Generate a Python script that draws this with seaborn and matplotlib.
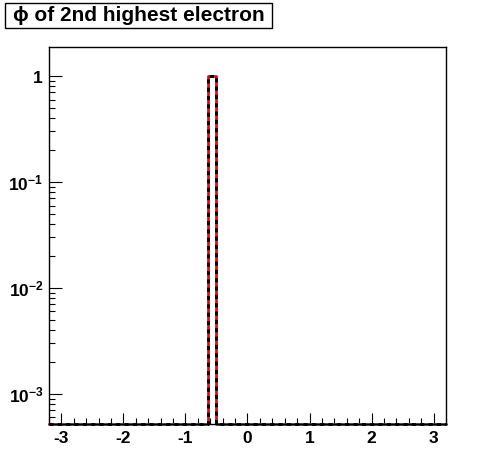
import numpy as np
import pandas as pd
import matplotlib
matplotlib.use("Agg")
import matplotlib.pyplot as plt
import seaborn as sns

# histogram of phi, 50 bins over [-3.2, 3.2]
x_min, x_max, n_bins = -3.2, 3.2, 50
counts = [0, 0, 0, 0, 0, 0, 0, 0, 0, 0,
          0, 0, 0, 0, 0, 0, 0, 0, 0, 0,
          1, 0, 0, 0, 0, 0, 0, 0, 0, 0,
          0, 0, 0, 0, 0, 0, 0, 0, 0, 0,
          0, 0, 0, 0, 0, 0, 0, 0, 0, 0]
x_ticks = [-3, -2, -1, 0, 1, 2, 3]
y_ticks = [1e-3, 1e-2, 1e-1, 1]
y_labels = ["$10^{-3}$", "$10^{-2}$", "$10^{-1}$", "$1$"]
title = "\u03d5 of 2nd highest electron"

sns.set_style("ticks")
plt.rcParams["font.family"] = ["Liberation Sans", "DejaVu Sans"]
plt.rcParams["font.weight"] = "bold"
plt.rcParams["text.color"] = "black"
plt.rcParams["mathtext.fontset"] = "custom"
plt.rcParams["mathtext.rm"] = "Liberation Sans:bold"
plt.rcParams["mathtext.bf"] = "Liberation Sans:bold"
plt.rcParams["mathtext.default"] = "bf"

y_lo, y_hi = 5.2e-4, 1.88
edges = np.linspace(x_min, x_max, n_bins + 1)
centers = (edges[:-1] + edges[1:]) / 2
# zero bins are drawn on the bottom of the frame, like ROOT does
df = pd.DataFrame({"phi": centers, "w": np.maximum(counts, y_lo)})

fig = plt.figure(figsize=(4.96, 4.72), dpi=100)
ax = fig.add_axes([49 / 496, 1 - 424 / 472, (446 - 49) / 496, (424 - 47) / 472])

sns.histplot(data=df, x="phi", weights="w", bins=edges.tolist(), element="step",
             fill=False, color="red", linewidth=2, clip_on=False, ax=ax)
sns.histplot(data=df, x="phi", weights="w", bins=edges.tolist(), element="step",
             fill=False, color="black", linewidth=2, linestyle=(0, (1.5, 1.5)),
             clip_on=False, ax=ax)

ax.set_yscale("log")
ax.set_xlim(x_min, x_max)
ax.set_ylim(y_lo, y_hi)
ax.set_xlabel("")
ax.set_ylabel("")
ax.set_xticks(x_ticks)
ax.set_xticklabels([str(t) for t in x_ticks])
ax.set_xticks(np.arange(-3.2, 3.21, 0.2), minor=True)
ax.set_yticks(y_ticks)
ax.set_yticklabels(y_labels)
ax.yaxis.set_minor_locator(matplotlib.ticker.LogLocator(base=10, subs=np.arange(2, 10)))
ax.yaxis.set_minor_formatter(matplotlib.ticker.NullFormatter())

ax.tick_params(axis="both", which="both", direction="in", width=0.8, colors="black",
               labelcolor="black", labelsize=12.5, top=False, right=False)
ax.tick_params(axis="x", which="major", length=8, pad=5)
ax.tick_params(axis="x", which="minor", length=4)
ax.tick_params(axis="y", which="major", length=9, pad=4)
ax.tick_params(axis="y", which="minor", length=4.5)
for s in ax.spines.values():
    s.set_linewidth(1)
    s.set_color("black")
    s.set_visible(True)
ax.grid(False)

# title box in the top left corner
fig.patches.append(plt.Rectangle((5 / 496, 1 - 28 / 472), 267 / 496, 25 / 472,
                                 transform=fig.transFigure, fill=False,
                                 edgecolor="black", linewidth=1))
fig.text(13 / 496, 1 - 15.5 / 472, title, fontsize=15, fontweight="bold",
         color="black", va="center", ha="left")

fig.savefig("out.png", dpi=100, facecolor="white")
